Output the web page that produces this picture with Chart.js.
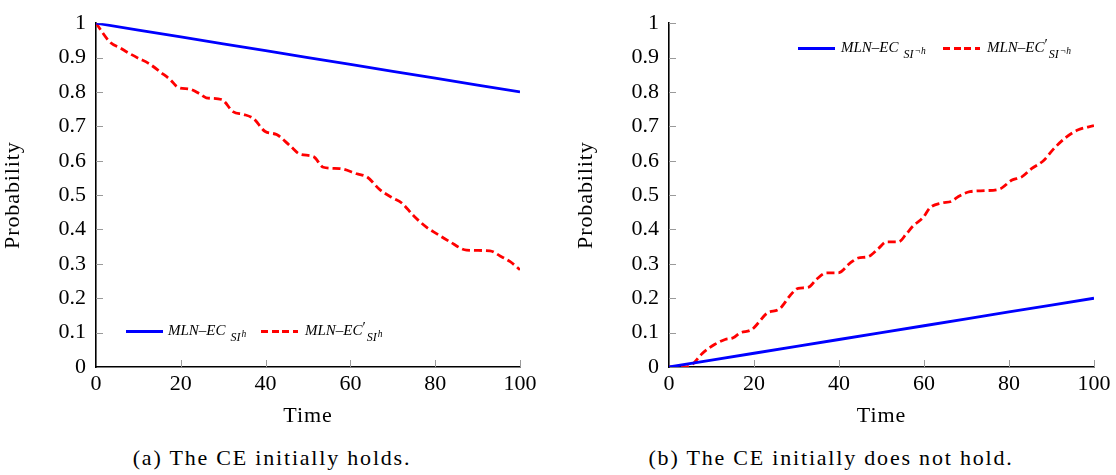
<!DOCTYPE html>
<html>
<head>
<meta charset="utf-8">
<script src="https://cdn.jsdelivr.net/npm/chart.js@4.4.0/dist/chart.umd.min.js"></script>
<style>
  html, body { margin:0; padding:0; background:#fff; }
  body { width:1116px; height:475px; position:relative; overflow:hidden; font-family:"Liberation Serif", "Times New Roman", Tinos, "DejaVu Serif", serif; }
  .box { position:absolute; top:0; width:558px; height:430px; }
  .cap { position:absolute; top:445px; font-size:22px; line-height:26px; white-space:nowrap; transform:translateX(-50%); color:#000; letter-spacing:1.8px; }
  .sw { position:absolute; width:37px; height:3px; }
  .solid { background:#0000ff; }
  .dash { background:repeating-linear-gradient(to right, #ff0000 0 7px, transparent 7px 10.5px); }
  .lt { position:absolute; font-size:15px; line-height:15px; white-space:nowrap; color:#000; font-style:italic; }
  .sb { font-size:12px; position:relative; top:6px; margin-left:5px; }
  .sp { font-size:9.5px; position:relative; top:-4px; margin-left:1px; }
  .pr { font-style:normal; position:relative; top:-3px; }
</style>
</head>
<body>
<div class="box" style="left:0"><canvas id="cA" width="558" height="430"></canvas></div>
<div class="box" style="left:558px"><canvas id="cB" width="558" height="430"></canvas></div>

<div class="sw solid" style="left:126px; top:330px"></div>
<div class="lt" style="left:168px; top:323px">MLN–EC<span class="sb">SI<span class="sp">h</span></span></div>
<div class="sw dash" style="left:261px; top:330px"></div>
<div class="lt" style="left:305px; top:323px">MLN–EC<span class="pr">′</span><span class="sb" style="margin-left:1px">SI<span class="sp">h</span></span></div>

<div class="sw solid" style="left:798px; top:47px"></div>
<div class="lt" style="left:841px; top:40px">MLN–EC<span class="sb">SI<span class="sp">¬h</span></span></div>
<div class="sw dash" style="left:943px; top:47px"></div>
<div class="lt" style="left:987px; top:40px">MLN–EC<span class="pr">′</span><span class="sb" style="margin-left:1px">SI<span class="sp">¬h</span></span></div>

<div class="cap" style="left:272px">(a) The CE initially holds.</div>
<div class="cap" style="left:831px">(b) The CE initially does not hold.</div>

<script>
// ---- data ----
const timeBlue = [0, 10, 20, 30, 40, 50, 60, 70, 80, 90, 100];
const probA_blue = [1.0, 0.98, 0.96, 0.94, 0.92, 0.90, 0.88, 0.86, 0.84, 0.82, 0.80];
const probB_blue = [0.0, 0.02, 0.04, 0.06, 0.08, 0.10, 0.12, 0.14, 0.16, 0.18, 0.20];

const timeA_red = [0, 3.3, 5.7, 7.6, 10, 12.3, 15.5, 17.5, 19.4, 22.2, 24.5, 26, 29.6, 32.4, 34.7, 37.1, 39.9, 42.6, 45.8, 48.1, 51.3, 53.6, 57.5, 61.5, 63.9, 67, 70.1, 72.1, 74.9, 78, 80.3, 83.5, 87.4, 92.9, 95.3, 97.6, 100];
const probA_red = [1.0, 0.945, 0.928, 0.914, 0.898, 0.884, 0.855, 0.836, 0.813, 0.808, 0.794, 0.783, 0.778, 0.742, 0.735, 0.723, 0.685, 0.676, 0.643, 0.619, 0.612, 0.581, 0.577, 0.562, 0.553, 0.515, 0.491, 0.477, 0.44, 0.406, 0.388, 0.364, 0.34, 0.338, 0.323, 0.307, 0.283];

const timeB_red = [0, 3.8, 5.7, 7.7, 10.8, 13.2, 15.1, 16.7, 19.5, 21, 23, 26.1, 28.5, 30.4, 32.8, 34.7, 37.1, 39.8, 42.6, 44.5, 46.9, 49.3, 51.2, 54, 55.9, 57.5, 59.8, 61.4, 64.1, 66.5, 68.1, 70.8, 74.4, 77.9, 80.6, 83, 85.3, 88.1, 90.4, 93.2, 96.3, 100];
const probB_red = [0, 0, 0.01, 0.038, 0.066, 0.08, 0.085, 0.099, 0.109, 0.128, 0.156, 0.17, 0.208, 0.229, 0.232, 0.255, 0.274, 0.274, 0.302, 0.317, 0.321, 0.345, 0.364, 0.364, 0.388, 0.411, 0.435, 0.463, 0.477, 0.482, 0.496, 0.51, 0.513, 0.518, 0.543, 0.553, 0.577, 0.6, 0.633, 0.666, 0.69, 0.702];

const xTickLabels = ['0', '20', '40', '60', '80', '100'];
const yTickLabels = ['0', '0.1', '0.2', '0.3', '0.4', '0.5', '0.6', '0.7', '0.8', '0.9', '1'];
const xTitle = 'Time';
const yTitle = 'Probability';
const seriesLabelsA = ['MLN–EC SI^h', "MLN–EC′ SI^h"];
const seriesLabelsB = ['MLN–EC SI¬h', "MLN–EC′ SI¬h"];

// ---- helpers ----
const pts = (xs, ys) => xs.map((x, i) => ({x: x, y: ys[i]}));

Chart.defaults.font.family = '"Liberation Serif", "Times New Roman", Tinos, "DejaVu Serif", serif';
Chart.defaults.color = '#000';

const inwardTicks = {
  id: 'inwardTicks',
  afterLayout(chart) {
    Object.values(chart.scales).forEach(s => {
      if (s._spacedTitle) return;
      const orig = s.drawTitle;
      s.drawTitle = function () {
        const c = this.ctx;
        c.save();
        c.letterSpacing = '0.9px';
        orig.call(this);
        c.restore();
      };
      s._spacedTitle = true;
    });
  },
  beforeDatasetsDraw(chart) {
    const {ctx, chartArea: a, scales: {x, y}} = chart;
    ctx.save();
    ctx.strokeStyle = '#9a9a9a';
    ctx.lineWidth = 1;
    y.ticks.forEach(t => {
      if (t.value === 0) return;
      const py = Math.round(y.getPixelForValue(t.value)) + 0.5;
      ctx.beginPath(); ctx.moveTo(a.left, py); ctx.lineTo(a.left + 7, py); ctx.stroke();
    });
    x.ticks.forEach(t => {
      if (t.value === 0) return;
      const px = Math.round(x.getPixelForValue(t.value)) + 0.5;
      ctx.beginPath(); ctx.moveTo(px, a.bottom); ctx.lineTo(px, a.bottom - 7); ctx.stroke();
    });
    ctx.restore();
  }
};

function makeChart(id, blueYs, redXs, redYs, labels, padLeft, padRight) {
  return new Chart(document.getElementById(id), {
    type: 'line',
    data: {
      datasets: [
        { label: labels[0], data: pts(timeBlue, blueYs), borderColor: '#0000ff', borderWidth: 2.8,
          pointRadius: 0, tension: 0, fill: false },
        { label: labels[1], data: pts(redXs, redYs), borderColor: '#ff0000', borderWidth: 2.8,
          borderDash: [8, 4], pointRadius: 0, cubicInterpolationMode: 'monotone', fill: false }
      ]
    },
    options: {
      responsive: false,
      animation: false,
      devicePixelRatio: 1,
      layout: { padding: { left: padLeft, right: padRight, top: 14, bottom: 0 } },
      plugins: { legend: { display: false }, tooltip: { enabled: false } },
      scales: {
        x: {
          type: 'linear', min: 0, max: 100,
          grid: { display: false, drawTicks: false },
          border: { display: true, color: '#000', width: 1.6 },
          ticks: { stepSize: 20, padding: 4, font: { size: 22 }, color: '#000', maxRotation: 0,
                   callback: (v, i) => xTickLabels[i] },
          title: { display: true, text: xTitle, font: { size: 22 }, color: '#000', padding: { top: 0, bottom: 1 } },
          afterFit: s => { s.height = 63; }
        },
        y: {
          type: 'linear', min: 0, max: 1,
          grid: { display: false, drawTicks: false },
          border: { display: true, color: '#000', width: 1.6 },
          ticks: { stepSize: 0.1, padding: 10, font: { size: 22 }, color: '#000',
                   callback: (v, i) => yTickLabels[i] },
          title: { display: true, text: yTitle, font: { size: 22 }, color: '#000', padding: { top: 0, bottom: 0 } },
          afterFit: s => { s.width = 96; }
        }
      }
    },
    plugins: [inwardTicks]
  });
}

makeChart('cA', probA_blue, timeA_red, probA_red, seriesLabelsA, 0, 38);
makeChart('cB', probB_blue, timeB_red, probB_red, seriesLabelsB, 15, 22);
</script>
</body>
</html>
